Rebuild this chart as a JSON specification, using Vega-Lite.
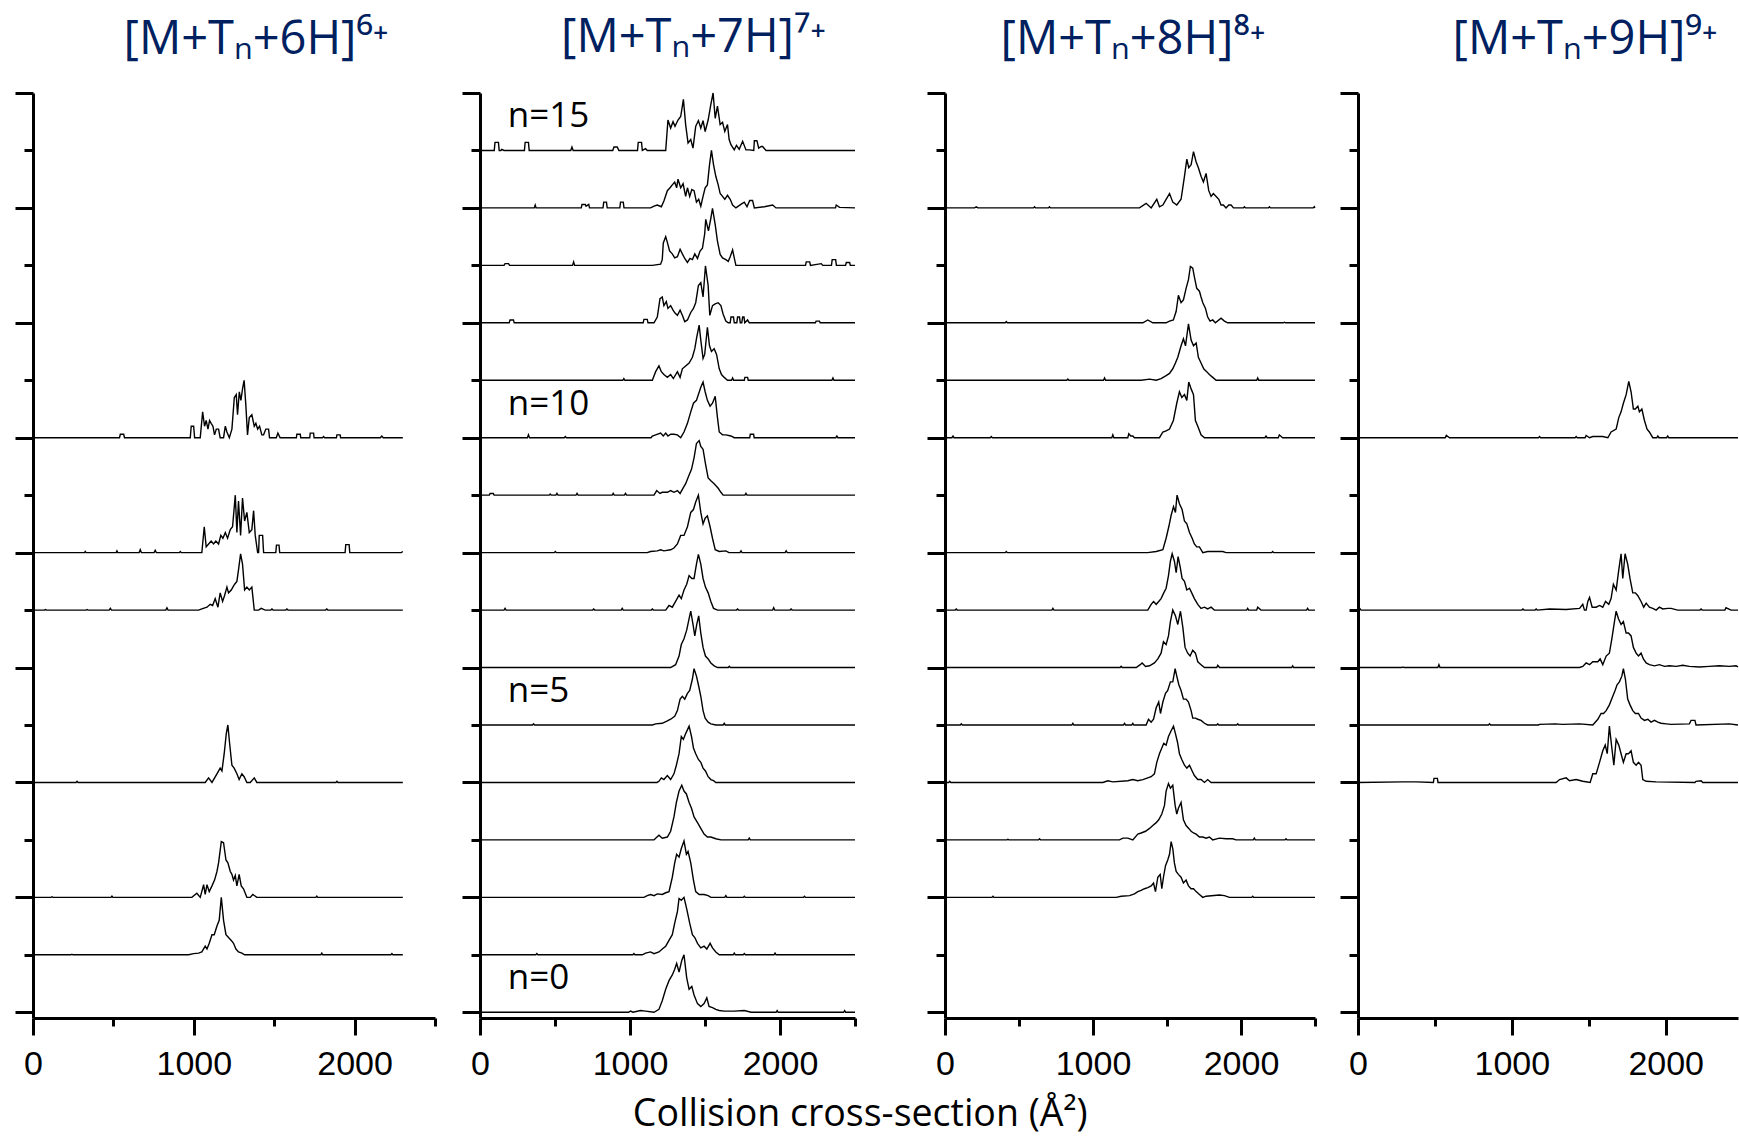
{
"$schema": "https://vega.github.io/schema/vega-lite/v6.json",
"background": "white",
"padding": {"left": 13, "top": 14, "right": 0, "bottom": 0},
"config": {
  "view": {"stroke": null},
  "axis": {"grid": false, "domainColor": "black", "domainWidth": 3, "tickColor": "black", "tickWidth": 3, "labelFont": "Liberation Sans", "labelFontSize": 34, "labelColor": "black", "title": null}
},
"title": {"text": "Collision cross-section (Å²)", "orient": "bottom", "anchor": "middle", "font": "Open Sans", "fontSize": 37.5, "color": "black", "fontWeight": "normal", "offset": 15, "dx": -17},
"datasets": {
"lab": [{"n":15,"t":"n=15"},{"n":10,"t":"n=10"},{"n":5,"t":"n=5"},{"n":0,"t":"n=0"}],
"p1": [
{"n":10,"x":0,"y":10},{"n":10,"x":538,"y":10},{"n":10,"x":543,"y":10.06},{"n":10,"x":564,"y":10.06},{"n":10,"x":569,"y":10},{"n":10,"x":978,"y":10},{"n":10,"x":984,"y":10.2},{"n":10,"x":999,"y":10.2},{"n":10,"x":1005,"y":10},{"n":10,"x":1040,"y":10},{"n":10,"x":1055,"y":10.45},{"n":10,"x":1067,"y":10.2},{"n":10,"x":1077,"y":10.3},{"n":10,"x":1088,"y":10.15},{"n":10,"x":1098,"y":10.3},{"n":10,"x":1108,"y":10.25},{"n":10,"x":1119,"y":10.2},{"n":10,"x":1129,"y":10.05},{"n":10,"x":1140,"y":10.15},{"n":10,"x":1154,"y":10.15},{"n":10,"x":1164,"y":10},{"n":10,"x":1185,"y":10},{"n":10,"x":1196,"y":10.2},{"n":10,"x":1206,"y":10.1},{"n":10,"x":1221,"y":10},{"n":10,"x":1237,"y":10.15},{"n":10,"x":1252,"y":10.7},{"n":10,"x":1264,"y":10.75},{"n":10,"x":1272,"y":10.4},{"n":10,"x":1283,"y":10.8},{"n":10,"x":1293,"y":10.65},{"n":10,"x":1303,"y":10.85},{"n":10,"x":1313,"y":11},{"n":10,"x":1324,"y":10.55},{"n":10,"x":1334,"y":10.05},{"n":10,"x":1345,"y":10.35},{"n":10,"x":1361,"y":10.4},{"n":10,"x":1376,"y":10.2},{"n":10,"x":1386,"y":10.25},{"n":10,"x":1397,"y":10.15},{"n":10,"x":1409,"y":10.2},{"n":10,"x":1423,"y":10.05},{"n":10,"x":1434,"y":10.05},{"n":10,"x":1448,"y":10.15},{"n":10,"x":1465,"y":10.15},{"n":10,"x":1471,"y":10},{"n":10,"x":1513,"y":10},{"n":10,"x":1523,"y":10.08},{"n":10,"x":1537,"y":10},{"n":10,"x":1638,"y":10},{"n":10,"x":1641,"y":10.06},{"n":10,"x":1662,"y":10.06},{"n":10,"x":1665,"y":10},{"n":10,"x":1721,"y":10},{"n":10,"x":1724,"y":10.08},{"n":10,"x":1745,"y":10.08},{"n":10,"x":1748,"y":10},{"n":10,"x":1800,"y":10},{"n":10,"x":1807,"y":10.02},{"n":10,"x":1814,"y":10},{"n":10,"x":1887,"y":10},{"n":10,"x":1890,"y":10.05},{"n":10,"x":1910,"y":10.05},{"n":10,"x":1913,"y":10},{"n":10,"x":2160,"y":10},{"n":10,"x":2169,"y":10.03},{"n":10,"x":2178,"y":10},{"n":10,"x":2300,"y":10},
{"n":8,"x":0,"y":8},{"n":8,"x":320,"y":8},{"n":8,"x":325,"y":8.02},{"n":8,"x":330,"y":8},{"n":8,"x":517,"y":8},{"n":8,"x":522,"y":8.03},{"n":8,"x":527,"y":8},{"n":8,"x":660,"y":8},{"n":8,"x":667,"y":8.05},{"n":8,"x":674,"y":8},{"n":8,"x":753,"y":8},{"n":8,"x":760,"y":8.04},{"n":8,"x":767,"y":8},{"n":8,"x":910,"y":8},{"n":8,"x":916,"y":8.02},{"n":8,"x":922,"y":8},{"n":8,"x":1050,"y":8},{"n":8,"x":1065,"y":8.45},{"n":8,"x":1077,"y":8.1},{"n":8,"x":1092,"y":8.15},{"n":8,"x":1108,"y":8.2},{"n":8,"x":1123,"y":8.15},{"n":8,"x":1137,"y":8.2},{"n":8,"x":1154,"y":8.15},{"n":8,"x":1168,"y":8.3},{"n":8,"x":1181,"y":8.25},{"n":8,"x":1196,"y":8.35},{"n":8,"x":1210,"y":8.25},{"n":8,"x":1227,"y":8.4},{"n":8,"x":1241,"y":8.45},{"n":8,"x":1258,"y":9},{"n":8,"x":1268,"y":8.35},{"n":8,"x":1278,"y":8.9},{"n":8,"x":1291,"y":8.3},{"n":8,"x":1303,"y":8.95},{"n":8,"x":1316,"y":8.55},{"n":8,"x":1330,"y":8.7},{"n":8,"x":1345,"y":8.35},{"n":8,"x":1361,"y":8.4},{"n":8,"x":1372,"y":8.73},{"n":8,"x":1382,"y":8.3},{"n":8,"x":1397,"y":8},{"n":8,"x":1403,"y":8},{"n":8,"x":1407,"y":8.3},{"n":8,"x":1428,"y":8.3},{"n":8,"x":1434,"y":8},{"n":8,"x":1510,"y":8},{"n":8,"x":1514,"y":8.13},{"n":8,"x":1530,"y":8.13},{"n":8,"x":1534,"y":8},{"n":8,"x":1941,"y":8},{"n":8,"x":1945,"y":8.14},{"n":8,"x":1966,"y":8.14},{"n":8,"x":1970,"y":8},{"n":8,"x":2290,"y":8},{"n":8,"x":2300,"y":8.02},
{"n":7,"x":0,"y":7},{"n":7,"x":70,"y":7},{"n":7,"x":77,"y":7.01},{"n":7,"x":84,"y":7},{"n":7,"x":330,"y":7},{"n":7,"x":336,"y":7.01},{"n":7,"x":342,"y":7},{"n":7,"x":474,"y":7},{"n":7,"x":481,"y":7.03},{"n":7,"x":488,"y":7},{"n":7,"x":826,"y":7},{"n":7,"x":833,"y":7.04},{"n":7,"x":840,"y":7},{"n":7,"x":1030,"y":7},{"n":7,"x":1050,"y":7.02},{"n":7,"x":1082,"y":7.05},{"n":7,"x":1102,"y":7.1},{"n":7,"x":1117,"y":7.08},{"n":7,"x":1133,"y":7.2},{"n":7,"x":1150,"y":7.05},{"n":7,"x":1164,"y":7.3},{"n":7,"x":1179,"y":7.15},{"n":7,"x":1191,"y":7.25},{"n":7,"x":1206,"y":7.4},{"n":7,"x":1216,"y":7.3},{"n":7,"x":1233,"y":7.35},{"n":7,"x":1243,"y":7.4},{"n":7,"x":1254,"y":7.45},{"n":7,"x":1268,"y":7.5},{"n":7,"x":1278,"y":7.7},{"n":7,"x":1291,"y":7.98},{"n":7,"x":1303,"y":7.8},{"n":7,"x":1316,"y":7.35},{"n":7,"x":1330,"y":7.4},{"n":7,"x":1345,"y":7.35},{"n":7,"x":1361,"y":7.4},{"n":7,"x":1376,"y":7},{"n":7,"x":1403,"y":7},{"n":7,"x":1419,"y":7.03},{"n":7,"x":1444,"y":7},{"n":7,"x":1479,"y":7},{"n":7,"x":1486,"y":7.02},{"n":7,"x":1493,"y":7},{"n":7,"x":1572,"y":7},{"n":7,"x":1579,"y":7.02},{"n":7,"x":1586,"y":7},{"n":7,"x":1820,"y":7},{"n":7,"x":1827,"y":7.02},{"n":7,"x":1834,"y":7},{"n":7,"x":2300,"y":7},
{"n":4,"x":0,"y":4},{"n":4,"x":268,"y":4},{"n":4,"x":274,"y":4.02},{"n":4,"x":280,"y":4},{"n":4,"x":1071,"y":4},{"n":4,"x":1092,"y":4.08},{"n":4,"x":1113,"y":4},{"n":4,"x":1144,"y":4.15},{"n":4,"x":1164,"y":4.25},{"n":4,"x":1175,"y":4.2},{"n":4,"x":1189,"y":4.5},{"n":4,"x":1202,"y":4.85},{"n":4,"x":1212,"y":5},{"n":4,"x":1222,"y":4.7},{"n":4,"x":1237,"y":4.3},{"n":4,"x":1251,"y":4.25},{"n":4,"x":1268,"y":4.15},{"n":4,"x":1282,"y":4.05},{"n":4,"x":1299,"y":4.15},{"n":4,"x":1313,"y":4.1},{"n":4,"x":1330,"y":4},{"n":4,"x":1351,"y":4},{"n":4,"x":1376,"y":4.08},{"n":4,"x":1392,"y":4},{"n":4,"x":1884,"y":4},{"n":4,"x":1890,"y":4.02},{"n":4,"x":1896,"y":4},{"n":4,"x":2300,"y":4},
{"n":2,"x":0,"y":2},{"n":2,"x":112,"y":2},{"n":2,"x":118,"y":2.01},{"n":2,"x":124,"y":2},{"n":2,"x":485,"y":2},{"n":2,"x":491,"y":2.02},{"n":2,"x":497,"y":2},{"n":2,"x":988,"y":2},{"n":2,"x":1019,"y":2.07},{"n":2,"x":1040,"y":2},{"n":2,"x":1061,"y":2.22},{"n":2,"x":1071,"y":2.05},{"n":2,"x":1082,"y":2.22},{"n":2,"x":1096,"y":2.1},{"n":2,"x":1113,"y":2.2},{"n":2,"x":1129,"y":2.3},{"n":2,"x":1144,"y":2.45},{"n":2,"x":1154,"y":2.6},{"n":2,"x":1171,"y":2.97},{"n":2,"x":1185,"y":2.95},{"n":2,"x":1200,"y":2.65},{"n":2,"x":1212,"y":2.6},{"n":2,"x":1227,"y":2.45},{"n":2,"x":1237,"y":2.4},{"n":2,"x":1247,"y":2.3},{"n":2,"x":1258,"y":2.38},{"n":2,"x":1268,"y":2.2},{"n":2,"x":1282,"y":2.4},{"n":2,"x":1295,"y":2.2},{"n":2,"x":1309,"y":2.15},{"n":2,"x":1330,"y":2},{"n":2,"x":1351,"y":2},{"n":2,"x":1367,"y":2.05},{"n":2,"x":1392,"y":2},{"n":2,"x":1759,"y":2},{"n":2,"x":1765,"y":2.02},{"n":2,"x":1771,"y":2},{"n":2,"x":2300,"y":2},
{"n":1,"x":0,"y":1},{"n":1,"x":236,"y":1},{"n":1,"x":242,"y":1.01},{"n":1,"x":248,"y":1},{"n":1,"x":968,"y":1},{"n":1,"x":999,"y":1.02},{"n":1,"x":1030,"y":1.03},{"n":1,"x":1050,"y":1.05},{"n":1,"x":1071,"y":1.15},{"n":1,"x":1082,"y":1.1},{"n":1,"x":1096,"y":1.2},{"n":1,"x":1113,"y":1.35},{"n":1,"x":1127,"y":1.35},{"n":1,"x":1144,"y":1.5},{"n":1,"x":1158,"y":1.6},{"n":1,"x":1171,"y":2},{"n":1,"x":1185,"y":1.6},{"n":1,"x":1200,"y":1.35},{"n":1,"x":1216,"y":1.3},{"n":1,"x":1233,"y":1.25},{"n":1,"x":1247,"y":1.2},{"n":1,"x":1262,"y":1.1},{"n":1,"x":1278,"y":1.05},{"n":1,"x":1299,"y":1.03},{"n":1,"x":1316,"y":1},{"n":1,"x":1790,"y":1},{"n":1,"x":1796,"y":1.03},{"n":1,"x":1802,"y":1},{"n":1,"x":2226,"y":1},{"n":1,"x":2232,"y":1.02},{"n":1,"x":2238,"y":1},{"n":1,"x":2300,"y":1}
],
"p2": [
{"n":15,"x":0,"y":15},{"n":15,"x":95,"y":15},{"n":15,"x":100,"y":15.14},{"n":15,"x":123,"y":15.14},{"n":15,"x":128,"y":15},{"n":15,"x":140,"y":15},{"n":15,"x":145,"y":15.02},{"n":15,"x":160,"y":15},{"n":15,"x":296,"y":15},{"n":15,"x":301,"y":15.14},{"n":15,"x":323,"y":15.14},{"n":15,"x":328,"y":15},{"n":15,"x":605,"y":15},{"n":15,"x":613,"y":15.06},{"n":15,"x":621,"y":15},{"n":15,"x":885,"y":15},{"n":15,"x":893,"y":15.06},{"n":15,"x":915,"y":15.06},{"n":15,"x":926,"y":15},{"n":15,"x":1050,"y":15},{"n":15,"x":1055,"y":15.14},{"n":15,"x":1077,"y":15.14},{"n":15,"x":1082,"y":15},{"n":15,"x":1104,"y":15.03},{"n":15,"x":1115,"y":15},{"n":15,"x":1238,"y":15},{"n":15,"x":1253,"y":15.53},{"n":15,"x":1271,"y":15.39},{"n":15,"x":1287,"y":15.5},{"n":15,"x":1300,"y":15.42},{"n":15,"x":1320,"y":15.53},{"n":15,"x":1338,"y":15.59},{"n":15,"x":1356,"y":15.89},{"n":15,"x":1371,"y":15.45},{"n":15,"x":1387,"y":15.13},{"n":15,"x":1405,"y":15.19},{"n":15,"x":1420,"y":15.04},{"n":15,"x":1438,"y":15.42},{"n":15,"x":1456,"y":15.52},{"n":15,"x":1472,"y":15.39},{"n":15,"x":1487,"y":15.52},{"n":15,"x":1501,"y":15.33},{"n":15,"x":1521,"y":15.53},{"n":15,"x":1539,"y":15.8},{"n":15,"x":1554,"y":16},{"n":15,"x":1568,"y":15.56},{"n":15,"x":1583,"y":15.77},{"n":15,"x":1601,"y":15.45},{"n":15,"x":1617,"y":15.49},{"n":15,"x":1632,"y":15.33},{"n":15,"x":1650,"y":15.45},{"n":15,"x":1661,"y":15.19},{"n":15,"x":1673,"y":15.1},{"n":15,"x":1695,"y":15.01},{"n":15,"x":1710,"y":15.09},{"n":15,"x":1728,"y":15.02},{"n":15,"x":1751,"y":15.16},{"n":15,"x":1773,"y":15.01},{"n":15,"x":1795,"y":15.01},{"n":15,"x":1825,"y":15},{"n":15,"x":1829,"y":15.17},{"n":15,"x":1846,"y":15.17},{"n":15,"x":1858,"y":15.04},{"n":15,"x":1875,"y":15.07},{"n":15,"x":1884,"y":15.07},{"n":15,"x":1907,"y":15},{"n":15,"x":2500,"y":15},
{"n":14,"x":0,"y":14},{"n":14,"x":362,"y":14},{"n":14,"x":368,"y":14.05},{"n":14,"x":374,"y":14},{"n":14,"x":675,"y":14},{"n":14,"x":680,"y":14.06},{"n":14,"x":702,"y":14.06},{"n":14,"x":707,"y":14.03},{"n":14,"x":725,"y":14.06},{"n":14,"x":730,"y":14},{"n":14,"x":820,"y":14},{"n":14,"x":825,"y":14.1},{"n":14,"x":843,"y":14.1},{"n":14,"x":848,"y":14},{"n":14,"x":932,"y":14},{"n":14,"x":937,"y":14.1},{"n":14,"x":955,"y":14.1},{"n":14,"x":960,"y":14},{"n":14,"x":1137,"y":14},{"n":14,"x":1160,"y":14.03},{"n":14,"x":1182,"y":14.05},{"n":14,"x":1209,"y":14.02},{"n":14,"x":1226,"y":14.12},{"n":14,"x":1249,"y":14.3},{"n":14,"x":1267,"y":14.35},{"n":14,"x":1282,"y":14.4},{"n":14,"x":1298,"y":14.45},{"n":14,"x":1311,"y":14.35},{"n":14,"x":1320,"y":14.5},{"n":14,"x":1338,"y":14.35},{"n":14,"x":1354,"y":14.42},{"n":14,"x":1371,"y":14.2},{"n":14,"x":1383,"y":14.35},{"n":14,"x":1398,"y":14.2},{"n":14,"x":1412,"y":14.32},{"n":14,"x":1427,"y":14.3},{"n":14,"x":1443,"y":14.1},{"n":14,"x":1458,"y":14.15},{"n":14,"x":1472,"y":14.03},{"n":14,"x":1487,"y":14.2},{"n":14,"x":1501,"y":14.35},{"n":14,"x":1516,"y":14.4},{"n":14,"x":1530,"y":14.75},{"n":14,"x":1543,"y":15},{"n":14,"x":1557,"y":14.75},{"n":14,"x":1572,"y":14.55},{"n":14,"x":1588,"y":14.4},{"n":14,"x":1601,"y":14.25},{"n":14,"x":1617,"y":14.2},{"n":14,"x":1632,"y":14.15},{"n":14,"x":1650,"y":14.22},{"n":14,"x":1668,"y":14.15},{"n":14,"x":1684,"y":14.05},{"n":14,"x":1706,"y":14},{"n":14,"x":1744,"y":14.07},{"n":14,"x":1762,"y":14.1},{"n":14,"x":1780,"y":14.02},{"n":14,"x":1798,"y":14.13},{"n":14,"x":1817,"y":14.13},{"n":14,"x":1829,"y":14},{"n":14,"x":1896,"y":14.02},{"n":14,"x":1951,"y":14.05},{"n":14,"x":1973,"y":14},{"n":14,"x":2370,"y":14},{"n":14,"x":2375,"y":14.05},{"n":14,"x":2397,"y":14.01},{"n":14,"x":2500,"y":14},
{"n":13,"x":0,"y":13},{"n":13,"x":160,"y":13},{"n":13,"x":167,"y":13.03},{"n":13,"x":190,"y":13.03},{"n":13,"x":197,"y":13},{"n":13,"x":617,"y":13},{"n":13,"x":624,"y":13.06},{"n":13,"x":631,"y":13},{"n":13,"x":1149,"y":13},{"n":13,"x":1204,"y":13.02},{"n":13,"x":1215,"y":13.1},{"n":13,"x":1222,"y":13.39},{"n":13,"x":1238,"y":13.5},{"n":13,"x":1249,"y":13.4},{"n":13,"x":1264,"y":13.25},{"n":13,"x":1282,"y":13.2},{"n":13,"x":1298,"y":13.13},{"n":13,"x":1316,"y":13.15},{"n":13,"x":1334,"y":13.28},{"n":13,"x":1349,"y":13.2},{"n":13,"x":1365,"y":13.12},{"n":13,"x":1383,"y":13.05},{"n":13,"x":1400,"y":13.12},{"n":13,"x":1416,"y":13.1},{"n":13,"x":1432,"y":13.2},{"n":13,"x":1450,"y":13.12},{"n":13,"x":1467,"y":13.25},{"n":13,"x":1483,"y":13.3},{"n":13,"x":1498,"y":13.55},{"n":13,"x":1505,"y":13.8},{"n":13,"x":1523,"y":13.6},{"n":13,"x":1539,"y":13.82},{"n":13,"x":1550,"y":13.99},{"n":13,"x":1568,"y":13.71},{"n":13,"x":1583,"y":13.42},{"n":13,"x":1601,"y":13.19},{"n":13,"x":1617,"y":13.13},{"n":13,"x":1639,"y":13.1},{"n":13,"x":1655,"y":13.07},{"n":13,"x":1668,"y":13.15},{"n":13,"x":1684,"y":13.27},{"n":13,"x":1695,"y":13.13},{"n":13,"x":1706,"y":13},{"n":13,"x":2170,"y":13},{"n":13,"x":2175,"y":13.06},{"n":13,"x":2198,"y":13.06},{"n":13,"x":2203,"y":13},{"n":13,"x":2275,"y":13.03},{"n":13,"x":2285,"y":13},{"n":13,"x":2343,"y":13},{"n":13,"x":2348,"y":13.1},{"n":13,"x":2371,"y":13.1},{"n":13,"x":2376,"y":13},{"n":13,"x":2437,"y":13},{"n":13,"x":2442,"y":13.05},{"n":13,"x":2464,"y":13.05},{"n":13,"x":2469,"y":13},{"n":13,"x":2500,"y":13},
{"n":12,"x":0,"y":12},{"n":12,"x":195,"y":12},{"n":12,"x":200,"y":12.05},{"n":12,"x":223,"y":12.05},{"n":12,"x":228,"y":12},{"n":12,"x":1088,"y":12},{"n":12,"x":1093,"y":12.06},{"n":12,"x":1115,"y":12.06},{"n":12,"x":1120,"y":12},{"n":12,"x":1160,"y":12},{"n":12,"x":1182,"y":12.1},{"n":12,"x":1200,"y":12.42},{"n":12,"x":1215,"y":12.45},{"n":12,"x":1226,"y":12.3},{"n":12,"x":1242,"y":12.37},{"n":12,"x":1253,"y":12.25},{"n":12,"x":1271,"y":12.3},{"n":12,"x":1287,"y":12.22},{"n":12,"x":1300,"y":12.17},{"n":12,"x":1316,"y":12.13},{"n":12,"x":1334,"y":12.22},{"n":12,"x":1351,"y":12.12},{"n":12,"x":1365,"y":12.02},{"n":12,"x":1383,"y":12.05},{"n":12,"x":1405,"y":12.18},{"n":12,"x":1423,"y":12.25},{"n":12,"x":1438,"y":12.35},{"n":12,"x":1456,"y":12.65},{"n":12,"x":1472,"y":12.7},{"n":12,"x":1487,"y":12.45},{"n":12,"x":1503,"y":12.99},{"n":12,"x":1521,"y":12.65},{"n":12,"x":1532,"y":12.13},{"n":12,"x":1550,"y":12.3},{"n":12,"x":1568,"y":12.33},{"n":12,"x":1588,"y":12.35},{"n":12,"x":1606,"y":12.3},{"n":12,"x":1621,"y":12.15},{"n":12,"x":1639,"y":12.03},{"n":12,"x":1655,"y":12},{"n":12,"x":1668,"y":12},{"n":12,"x":1673,"y":12.1},{"n":12,"x":1690,"y":12.1},{"n":12,"x":1695,"y":12},{"n":12,"x":1712,"y":12},{"n":12,"x":1717,"y":12.1},{"n":12,"x":1730,"y":12.1},{"n":12,"x":1735,"y":12},{"n":12,"x":1745,"y":12},{"n":12,"x":1751,"y":12.1},{"n":12,"x":1760,"y":12.1},{"n":12,"x":1765,"y":12},{"n":12,"x":1784,"y":12.05},{"n":12,"x":1795,"y":12},{"n":12,"x":2236,"y":12},{"n":12,"x":2241,"y":12.03},{"n":12,"x":2263,"y":12.03},{"n":12,"x":2268,"y":12},{"n":12,"x":2500,"y":12},
{"n":11,"x":0,"y":11},{"n":11,"x":952,"y":11},{"n":11,"x":959,"y":11.03},{"n":11,"x":966,"y":11},{"n":11,"x":1149,"y":11},{"n":11,"x":1171,"y":11.15},{"n":11,"x":1193,"y":11.25},{"n":11,"x":1209,"y":11.15},{"n":11,"x":1226,"y":11.1},{"n":11,"x":1249,"y":11.05},{"n":11,"x":1271,"y":11.1},{"n":11,"x":1289,"y":11.03},{"n":11,"x":1316,"y":11.15},{"n":11,"x":1334,"y":11.05},{"n":11,"x":1349,"y":11.2},{"n":11,"x":1371,"y":11.25},{"n":11,"x":1394,"y":11.3},{"n":11,"x":1416,"y":11.4},{"n":11,"x":1432,"y":11.55},{"n":11,"x":1445,"y":11.75},{"n":11,"x":1461,"y":11.96},{"n":11,"x":1472,"y":11.7},{"n":11,"x":1487,"y":11.38},{"n":11,"x":1498,"y":11.45},{"n":11,"x":1516,"y":11.92},{"n":11,"x":1530,"y":11.6},{"n":11,"x":1543,"y":11.5},{"n":11,"x":1561,"y":11.55},{"n":11,"x":1577,"y":11.45},{"n":11,"x":1595,"y":11.2},{"n":11,"x":1610,"y":11.1},{"n":11,"x":1628,"y":11.05},{"n":11,"x":1650,"y":11},{"n":11,"x":1677,"y":11},{"n":11,"x":1684,"y":11.04},{"n":11,"x":1691,"y":11},{"n":11,"x":1762,"y":11},{"n":11,"x":1766,"y":11.05},{"n":11,"x":1784,"y":11.05},{"n":11,"x":1788,"y":11},{"n":11,"x":2346,"y":11},{"n":11,"x":2353,"y":11.04},{"n":11,"x":2360,"y":11},{"n":11,"x":2500,"y":11},
{"n":10,"x":0,"y":10},{"n":10,"x":316,"y":10},{"n":10,"x":323,"y":10.05},{"n":10,"x":330,"y":10},{"n":10,"x":562,"y":10},{"n":10,"x":569,"y":10.02},{"n":10,"x":576,"y":10},{"n":10,"x":1140,"y":10},{"n":10,"x":1149,"y":10.03},{"n":10,"x":1171,"y":10.05},{"n":10,"x":1204,"y":10.08},{"n":10,"x":1222,"y":10.03},{"n":10,"x":1238,"y":10.08},{"n":10,"x":1253,"y":10.03},{"n":10,"x":1271,"y":10.06},{"n":10,"x":1293,"y":10.06},{"n":10,"x":1316,"y":10.05},{"n":10,"x":1338,"y":10},{"n":10,"x":1360,"y":10.1},{"n":10,"x":1383,"y":10.25},{"n":10,"x":1405,"y":10.45},{"n":10,"x":1423,"y":10.6},{"n":10,"x":1443,"y":10.65},{"n":10,"x":1472,"y":10.88},{"n":10,"x":1487,"y":10.97},{"n":10,"x":1501,"y":10.8},{"n":10,"x":1516,"y":10.65},{"n":10,"x":1534,"y":10.55},{"n":10,"x":1550,"y":10.6},{"n":10,"x":1568,"y":10.72},{"n":10,"x":1583,"y":10.35},{"n":10,"x":1595,"y":10.1},{"n":10,"x":1617,"y":10.05},{"n":10,"x":1639,"y":10.05},{"n":10,"x":1673,"y":10.03},{"n":10,"x":1695,"y":10},{"n":10,"x":1798,"y":10},{"n":10,"x":1802,"y":10.06},{"n":10,"x":1824,"y":10.06},{"n":10,"x":1828,"y":10},{"n":10,"x":2372,"y":10},{"n":10,"x":2379,"y":10.03},{"n":10,"x":2386,"y":10},{"n":10,"x":2500,"y":10},
{"n":9,"x":0,"y":9},{"n":9,"x":62,"y":9},{"n":9,"x":67,"y":9.03},{"n":9,"x":89,"y":9.03},{"n":9,"x":94,"y":9},{"n":9,"x":461,"y":9},{"n":9,"x":468,"y":9.02},{"n":9,"x":475,"y":9},{"n":9,"x":506,"y":9},{"n":9,"x":513,"y":9.03},{"n":9,"x":520,"y":9},{"n":9,"x":640,"y":9},{"n":9,"x":647,"y":9.03},{"n":9,"x":654,"y":9},{"n":9,"x":881,"y":9},{"n":9,"x":888,"y":9.03},{"n":9,"x":895,"y":9},{"n":9,"x":963,"y":9},{"n":9,"x":970,"y":9.03},{"n":9,"x":977,"y":9},{"n":9,"x":1160,"y":9},{"n":9,"x":1178,"y":9.08},{"n":9,"x":1200,"y":9.03},{"n":9,"x":1215,"y":9.05},{"n":9,"x":1249,"y":9.05},{"n":9,"x":1271,"y":9.08},{"n":9,"x":1293,"y":9.05},{"n":9,"x":1316,"y":9.08},{"n":9,"x":1334,"y":9.03},{"n":9,"x":1349,"y":9.1},{"n":9,"x":1371,"y":9.2},{"n":9,"x":1394,"y":9.35},{"n":9,"x":1410,"y":9.45},{"n":9,"x":1427,"y":9.65},{"n":9,"x":1443,"y":9.9},{"n":9,"x":1461,"y":9.95},{"n":9,"x":1472,"y":9.85},{"n":9,"x":1487,"y":9.8},{"n":9,"x":1503,"y":9.55},{"n":9,"x":1521,"y":9.3},{"n":9,"x":1539,"y":9.25},{"n":9,"x":1561,"y":9.2},{"n":9,"x":1588,"y":9.12},{"n":9,"x":1606,"y":9.05},{"n":9,"x":1621,"y":9},{"n":9,"x":1766,"y":9},{"n":9,"x":1773,"y":9.03},{"n":9,"x":1780,"y":9},{"n":9,"x":2500,"y":9},
{"n":8,"x":0,"y":8},{"n":8,"x":495,"y":8},{"n":8,"x":502,"y":8.02},{"n":8,"x":509,"y":8},{"n":8,"x":1115,"y":8},{"n":8,"x":1137,"y":8.02},{"n":8,"x":1182,"y":8.03},{"n":8,"x":1204,"y":8.05},{"n":8,"x":1226,"y":8.03},{"n":8,"x":1271,"y":8.05},{"n":8,"x":1293,"y":8.08},{"n":8,"x":1316,"y":8.15},{"n":8,"x":1338,"y":8.3},{"n":8,"x":1360,"y":8.3},{"n":8,"x":1383,"y":8.45},{"n":8,"x":1405,"y":8.7},{"n":8,"x":1423,"y":8.75},{"n":8,"x":1438,"y":8.88},{"n":8,"x":1456,"y":9},{"n":8,"x":1472,"y":8.7},{"n":8,"x":1487,"y":8.5},{"n":8,"x":1501,"y":8.6},{"n":8,"x":1516,"y":8.64},{"n":8,"x":1534,"y":8.45},{"n":8,"x":1550,"y":8.25},{"n":8,"x":1568,"y":8.05},{"n":8,"x":1595,"y":8.02},{"n":8,"x":1639,"y":8.03},{"n":8,"x":1660,"y":8},{"n":8,"x":1733,"y":8},{"n":8,"x":1740,"y":8.03},{"n":8,"x":1747,"y":8},{"n":8,"x":2034,"y":8},{"n":8,"x":2041,"y":8.03},{"n":8,"x":2048,"y":8},{"n":8,"x":2500,"y":8},
{"n":7,"x":0,"y":7},{"n":7,"x":160,"y":7},{"n":7,"x":167,"y":7.03},{"n":7,"x":174,"y":7},{"n":7,"x":751,"y":7},{"n":7,"x":758,"y":7.02},{"n":7,"x":765,"y":7},{"n":7,"x":941,"y":7},{"n":7,"x":948,"y":7.03},{"n":7,"x":955,"y":7},{"n":7,"x":1142,"y":7},{"n":7,"x":1149,"y":7.02},{"n":7,"x":1156,"y":7},{"n":7,"x":1238,"y":7},{"n":7,"x":1260,"y":7.08},{"n":7,"x":1282,"y":7.05},{"n":7,"x":1304,"y":7.15},{"n":7,"x":1327,"y":7.26},{"n":7,"x":1342,"y":7.2},{"n":7,"x":1360,"y":7.35},{"n":7,"x":1378,"y":7.45},{"n":7,"x":1394,"y":7.6},{"n":7,"x":1412,"y":7.55},{"n":7,"x":1427,"y":7.55},{"n":7,"x":1443,"y":7.8},{"n":7,"x":1456,"y":7.97},{"n":7,"x":1472,"y":7.8},{"n":7,"x":1487,"y":7.55},{"n":7,"x":1503,"y":7.4},{"n":7,"x":1521,"y":7.3},{"n":7,"x":1539,"y":7.15},{"n":7,"x":1557,"y":7.03},{"n":7,"x":1584,"y":7},{"n":7,"x":1710,"y":7},{"n":7,"x":1717,"y":7.02},{"n":7,"x":1724,"y":7},{"n":7,"x":1951,"y":7},{"n":7,"x":1958,"y":7.04},{"n":7,"x":1965,"y":7},{"n":7,"x":2067,"y":7},{"n":7,"x":2074,"y":7.02},{"n":7,"x":2081,"y":7},{"n":7,"x":2500,"y":7},
{"n":6,"x":0,"y":6},{"n":6,"x":1271,"y":6},{"n":6,"x":1304,"y":6.05},{"n":6,"x":1327,"y":6.2},{"n":6,"x":1342,"y":6.4},{"n":6,"x":1360,"y":6.5},{"n":6,"x":1378,"y":6.65},{"n":6,"x":1394,"y":6.85},{"n":6,"x":1405,"y":6.98},{"n":6,"x":1420,"y":6.75},{"n":6,"x":1432,"y":6.55},{"n":6,"x":1445,"y":6.75},{"n":6,"x":1458,"y":6.9},{"n":6,"x":1472,"y":6.6},{"n":6,"x":1487,"y":6.35},{"n":6,"x":1503,"y":6.2},{"n":6,"x":1521,"y":6.15},{"n":6,"x":1539,"y":6.08},{"n":6,"x":1561,"y":6.03},{"n":6,"x":1584,"y":6},{"n":6,"x":1655,"y":6},{"n":6,"x":1662,"y":6.02},{"n":6,"x":1669,"y":6},{"n":6,"x":2500,"y":6},
{"n":5,"x":0,"y":5},{"n":5,"x":350,"y":5},{"n":5,"x":357,"y":5.02},{"n":5,"x":364,"y":5},{"n":5,"x":1150,"y":5},{"n":5,"x":1171,"y":5.02},{"n":5,"x":1215,"y":5.03},{"n":5,"x":1249,"y":5.07},{"n":5,"x":1271,"y":5.1},{"n":5,"x":1298,"y":5.15},{"n":5,"x":1316,"y":5.25},{"n":5,"x":1334,"y":5.45},{"n":5,"x":1349,"y":5.5},{"n":5,"x":1365,"y":5.45},{"n":5,"x":1383,"y":5.55},{"n":5,"x":1398,"y":5.6},{"n":5,"x":1416,"y":5.8},{"n":5,"x":1427,"y":5.98},{"n":5,"x":1443,"y":5.85},{"n":5,"x":1456,"y":5.7},{"n":5,"x":1472,"y":5.5},{"n":5,"x":1487,"y":5.25},{"n":5,"x":1501,"y":5.12},{"n":5,"x":1521,"y":5.05},{"n":5,"x":1539,"y":5.02},{"n":5,"x":1572,"y":5},{"n":5,"x":1621,"y":5},{"n":5,"x":1628,"y":5.03},{"n":5,"x":1635,"y":5},{"n":5,"x":2500,"y":5},
{"n":4,"x":0,"y":4},{"n":4,"x":1180,"y":4},{"n":4,"x":1193,"y":4.02},{"n":4,"x":1209,"y":4.08},{"n":4,"x":1226,"y":4.05},{"n":4,"x":1249,"y":4.12},{"n":4,"x":1271,"y":4.05},{"n":4,"x":1293,"y":4.15},{"n":4,"x":1309,"y":4.3},{"n":4,"x":1327,"y":4.5},{"n":4,"x":1342,"y":4.8},{"n":4,"x":1356,"y":4.75},{"n":4,"x":1371,"y":4.85},{"n":4,"x":1394,"y":4.98},{"n":4,"x":1410,"y":4.8},{"n":4,"x":1423,"y":4.6},{"n":4,"x":1438,"y":4.5},{"n":4,"x":1456,"y":4.4},{"n":4,"x":1472,"y":4.35},{"n":4,"x":1487,"y":4.25},{"n":4,"x":1503,"y":4.2},{"n":4,"x":1521,"y":4.1},{"n":4,"x":1539,"y":4.05},{"n":4,"x":1557,"y":4.03},{"n":4,"x":1572,"y":4},{"n":4,"x":2500,"y":4},
{"n":3,"x":0,"y":3},{"n":3,"x":1160,"y":3},{"n":3,"x":1171,"y":3.03},{"n":3,"x":1193,"y":3.08},{"n":3,"x":1215,"y":3.03},{"n":3,"x":1249,"y":3.05},{"n":3,"x":1271,"y":3.15},{"n":3,"x":1293,"y":3.4},{"n":3,"x":1309,"y":3.65},{"n":3,"x":1327,"y":3.85},{"n":3,"x":1345,"y":3.95},{"n":3,"x":1360,"y":3.85},{"n":3,"x":1376,"y":3.8},{"n":3,"x":1394,"y":3.65},{"n":3,"x":1410,"y":3.55},{"n":3,"x":1427,"y":3.4},{"n":3,"x":1450,"y":3.3},{"n":3,"x":1472,"y":3.2},{"n":3,"x":1494,"y":3.1},{"n":3,"x":1516,"y":3.05},{"n":3,"x":1539,"y":3.05},{"n":3,"x":1572,"y":3.02},{"n":3,"x":1606,"y":3},{"n":3,"x":1788,"y":3},{"n":3,"x":1795,"y":3.03},{"n":3,"x":1802,"y":3},{"n":3,"x":2500,"y":3},
{"n":2,"x":0,"y":2},{"n":2,"x":1093,"y":2},{"n":2,"x":1115,"y":2.03},{"n":2,"x":1137,"y":2.05},{"n":2,"x":1160,"y":2.03},{"n":2,"x":1182,"y":2.06},{"n":2,"x":1215,"y":2.05},{"n":2,"x":1238,"y":2.08},{"n":2,"x":1260,"y":2.1},{"n":2,"x":1282,"y":2.35},{"n":2,"x":1298,"y":2.6},{"n":2,"x":1311,"y":2.75},{"n":2,"x":1327,"y":2.7},{"n":2,"x":1342,"y":2.85},{"n":2,"x":1360,"y":2.98},{"n":2,"x":1376,"y":2.75},{"n":2,"x":1387,"y":2.8},{"n":2,"x":1405,"y":2.6},{"n":2,"x":1423,"y":2.3},{"n":2,"x":1438,"y":2.1},{"n":2,"x":1461,"y":2.05},{"n":2,"x":1494,"y":2.05},{"n":2,"x":1521,"y":2.03},{"n":2,"x":1539,"y":2},{"n":2,"x":1632,"y":2},{"n":2,"x":1639,"y":2.03},{"n":2,"x":1646,"y":2},{"n":2,"x":1755,"y":2},{"n":2,"x":1762,"y":2.02},{"n":2,"x":1769,"y":2},{"n":2,"x":2156,"y":2},{"n":2,"x":2163,"y":2.02},{"n":2,"x":2170,"y":2},{"n":2,"x":2500,"y":2},
{"n":1,"x":0,"y":1},{"n":1,"x":372,"y":1},{"n":1,"x":379,"y":1.02},{"n":1,"x":386,"y":1},{"n":1,"x":1019,"y":1},{"n":1,"x":1026,"y":1.02},{"n":1,"x":1033,"y":1},{"n":1,"x":1082,"y":1},{"n":1,"x":1104,"y":1.03},{"n":1,"x":1137,"y":1.05},{"n":1,"x":1160,"y":1.02},{"n":1,"x":1193,"y":1.05},{"n":1,"x":1215,"y":1.1},{"n":1,"x":1238,"y":1.15},{"n":1,"x":1260,"y":1.25},{"n":1,"x":1282,"y":1.35},{"n":1,"x":1298,"y":1.55},{"n":1,"x":1316,"y":1.75},{"n":1,"x":1327,"y":1.98},{"n":1,"x":1342,"y":1.95},{"n":1,"x":1360,"y":2},{"n":1,"x":1378,"y":1.8},{"n":1,"x":1398,"y":1.55},{"n":1,"x":1416,"y":1.35},{"n":1,"x":1432,"y":1.3},{"n":1,"x":1450,"y":1.2},{"n":1,"x":1472,"y":1.12},{"n":1,"x":1494,"y":1.15},{"n":1,"x":1512,"y":1.1},{"n":1,"x":1534,"y":1.2},{"n":1,"x":1550,"y":1.12},{"n":1,"x":1572,"y":1.05},{"n":1,"x":1595,"y":1},{"n":1,"x":1688,"y":1},{"n":1,"x":1695,"y":1.03},{"n":1,"x":1702,"y":1},{"n":1,"x":1755,"y":1},{"n":1,"x":1762,"y":1.02},{"n":1,"x":1769,"y":1},{"n":1,"x":1960,"y":1},{"n":1,"x":1967,"y":1.03},{"n":1,"x":1974,"y":1},{"n":1,"x":2500,"y":1},
{"n":0,"x":0,"y":0},{"n":0,"x":990,"y":0},{"n":0,"x":1004,"y":0.02},{"n":0,"x":1020,"y":0},{"n":0,"x":1070,"y":0.03},{"n":0,"x":1104,"y":0.02},{"n":0,"x":1160,"y":0},{"n":0,"x":1193,"y":0.05},{"n":0,"x":1215,"y":0.2},{"n":0,"x":1238,"y":0.4},{"n":0,"x":1260,"y":0.55},{"n":0,"x":1282,"y":0.65},{"n":0,"x":1298,"y":0.75},{"n":0,"x":1311,"y":0.85},{"n":0,"x":1327,"y":0.7},{"n":0,"x":1345,"y":0.9},{"n":0,"x":1360,"y":1},{"n":0,"x":1378,"y":0.6},{"n":0,"x":1394,"y":0.4},{"n":0,"x":1412,"y":0.45},{"n":0,"x":1427,"y":0.3},{"n":0,"x":1450,"y":0.15},{"n":0,"x":1472,"y":0.1},{"n":0,"x":1494,"y":0.15},{"n":0,"x":1512,"y":0.25},{"n":0,"x":1527,"y":0.1},{"n":0,"x":1550,"y":0.08},{"n":0,"x":1572,"y":0.05},{"n":0,"x":1595,"y":0.03},{"n":0,"x":1628,"y":0.02},{"n":0,"x":1695,"y":0.02},{"n":0,"x":1762,"y":0.03},{"n":0,"x":1807,"y":0},{"n":0,"x":1974,"y":0},{"n":0,"x":1981,"y":0.03},{"n":0,"x":1988,"y":0},{"n":0,"x":2424,"y":0},{"n":0,"x":2431,"y":0.03},{"n":0,"x":2438,"y":0},{"n":0,"x":2500,"y":0}
],
"p3": [
{"n":14,"x":0,"y":14},{"n":14,"x":200,"y":14},{"n":14,"x":211,"y":14.02},{"n":14,"x":222,"y":14},{"n":14,"x":598,"y":14},{"n":14,"x":605,"y":14.02},{"n":14,"x":612,"y":14},{"n":14,"x":699,"y":14},{"n":14,"x":706,"y":14.02},{"n":14,"x":713,"y":14},{"n":14,"x":1314,"y":14},{"n":14,"x":1359,"y":14.08},{"n":14,"x":1393,"y":14},{"n":14,"x":1431,"y":14.15},{"n":14,"x":1449,"y":14.02},{"n":14,"x":1472,"y":14.05},{"n":14,"x":1494,"y":14.15},{"n":14,"x":1517,"y":14.25},{"n":14,"x":1539,"y":14.1},{"n":14,"x":1566,"y":14.05},{"n":14,"x":1595,"y":14.15},{"n":14,"x":1618,"y":14.55},{"n":14,"x":1634,"y":14.85},{"n":14,"x":1647,"y":14.7},{"n":14,"x":1663,"y":14.75},{"n":14,"x":1679,"y":14.98},{"n":14,"x":1697,"y":14.8},{"n":14,"x":1712,"y":14.7},{"n":14,"x":1730,"y":14.55},{"n":14,"x":1746,"y":14.45},{"n":14,"x":1764,"y":14.6},{"n":14,"x":1782,"y":14.3},{"n":14,"x":1798,"y":14.2},{"n":14,"x":1813,"y":14.25},{"n":14,"x":1832,"y":14.2},{"n":14,"x":1850,"y":14.15},{"n":14,"x":1865,"y":14.05},{"n":14,"x":1881,"y":14.05},{"n":14,"x":1899,"y":14},{"n":14,"x":1917,"y":14.05},{"n":14,"x":1933,"y":14.05},{"n":14,"x":1949,"y":14},{"n":14,"x":2016,"y":14},{"n":14,"x":2023,"y":14.02},{"n":14,"x":2030,"y":14},{"n":14,"x":2185,"y":14},{"n":14,"x":2192,"y":14.02},{"n":14,"x":2199,"y":14},{"n":14,"x":2488,"y":14},{"n":14,"x":2495,"y":14.02},{"n":14,"x":2500,"y":14},
{"n":12,"x":0,"y":12},{"n":12,"x":407,"y":12},{"n":12,"x":414,"y":12.02},{"n":12,"x":421,"y":12},{"n":12,"x":1337,"y":12},{"n":12,"x":1370,"y":12.05},{"n":12,"x":1404,"y":12},{"n":12,"x":1494,"y":12},{"n":12,"x":1517,"y":12.03},{"n":12,"x":1543,"y":12.05},{"n":12,"x":1562,"y":12.2},{"n":12,"x":1577,"y":12.48},{"n":12,"x":1595,"y":12.35},{"n":12,"x":1611,"y":12.4},{"n":12,"x":1629,"y":12.6},{"n":12,"x":1645,"y":12.75},{"n":12,"x":1658,"y":12.98},{"n":12,"x":1674,"y":12.95},{"n":12,"x":1685,"y":12.8},{"n":12,"x":1701,"y":12.6},{"n":12,"x":1719,"y":12.55},{"n":12,"x":1730,"y":12.45},{"n":12,"x":1742,"y":12.35},{"n":12,"x":1760,"y":12.25},{"n":12,"x":1775,"y":12.1},{"n":12,"x":1791,"y":12.03},{"n":12,"x":1809,"y":12.05},{"n":12,"x":1827,"y":12},{"n":12,"x":1865,"y":12.08},{"n":12,"x":1888,"y":12.03},{"n":12,"x":1910,"y":12},{"n":12,"x":2286,"y":12},{"n":12,"x":2293,"y":12.01},{"n":12,"x":2300,"y":12},{"n":12,"x":2500,"y":12},
{"n":11,"x":0,"y":11},{"n":11,"x":823,"y":11},{"n":11,"x":830,"y":11.02},{"n":11,"x":837,"y":11},{"n":11,"x":1071,"y":11},{"n":11,"x":1078,"y":11.04},{"n":11,"x":1085,"y":11},{"n":11,"x":1325,"y":11},{"n":11,"x":1382,"y":11.02},{"n":11,"x":1427,"y":11},{"n":11,"x":1460,"y":11.03},{"n":11,"x":1494,"y":11.08},{"n":11,"x":1517,"y":11.12},{"n":11,"x":1539,"y":11.2},{"n":11,"x":1557,"y":11.3},{"n":11,"x":1573,"y":11.4},{"n":11,"x":1595,"y":11.6},{"n":11,"x":1611,"y":11.72},{"n":11,"x":1625,"y":11.6},{"n":11,"x":1645,"y":11.98},{"n":11,"x":1663,"y":11.7},{"n":11,"x":1679,"y":11.6},{"n":11,"x":1697,"y":11.65},{"n":11,"x":1712,"y":11.4},{"n":11,"x":1730,"y":11.3},{"n":11,"x":1748,"y":11.2},{"n":11,"x":1768,"y":11.15},{"n":11,"x":1786,"y":11.1},{"n":11,"x":1809,"y":11.05},{"n":11,"x":1832,"y":11},{"n":11,"x":2106,"y":11},{"n":11,"x":2113,"y":11.04},{"n":11,"x":2120,"y":11},{"n":11,"x":2500,"y":11},
{"n":10,"x":0,"y":10},{"n":10,"x":47,"y":10},{"n":10,"x":54,"y":10.03},{"n":10,"x":61,"y":10},{"n":10,"x":306,"y":10},{"n":10,"x":313,"y":10.02},{"n":10,"x":320,"y":10},{"n":10,"x":1127,"y":10},{"n":10,"x":1134,"y":10.05},{"n":10,"x":1141,"y":10},{"n":10,"x":1235,"y":10},{"n":10,"x":1242,"y":10.07},{"n":10,"x":1255,"y":10.03},{"n":10,"x":1269,"y":10.03},{"n":10,"x":1280,"y":10},{"n":10,"x":1449,"y":10},{"n":10,"x":1472,"y":10.1},{"n":10,"x":1494,"y":10.12},{"n":10,"x":1517,"y":10.15},{"n":10,"x":1543,"y":10.3},{"n":10,"x":1566,"y":10.6},{"n":10,"x":1584,"y":10.8},{"n":10,"x":1600,"y":10.7},{"n":10,"x":1618,"y":10.75},{"n":10,"x":1634,"y":10.65},{"n":10,"x":1647,"y":10.97},{"n":10,"x":1663,"y":10.85},{"n":10,"x":1679,"y":10.75},{"n":10,"x":1692,"y":10.3},{"n":10,"x":1708,"y":10.2},{"n":10,"x":1730,"y":10.05},{"n":10,"x":1753,"y":10},{"n":10,"x":2162,"y":10},{"n":10,"x":2169,"y":10.03},{"n":10,"x":2176,"y":10},{"n":10,"x":2252,"y":10},{"n":10,"x":2259,"y":10.05},{"n":10,"x":2281,"y":10},{"n":10,"x":2500,"y":10},
{"n":8,"x":0,"y":8},{"n":8,"x":407,"y":8},{"n":8,"x":414,"y":8.02},{"n":8,"x":421,"y":8},{"n":8,"x":1370,"y":8},{"n":8,"x":1427,"y":8.02},{"n":8,"x":1472,"y":8.05},{"n":8,"x":1494,"y":8.25},{"n":8,"x":1512,"y":8.45},{"n":8,"x":1528,"y":8.65},{"n":8,"x":1544,"y":8.8},{"n":8,"x":1557,"y":8.7},{"n":8,"x":1568,"y":9},{"n":8,"x":1584,"y":8.85},{"n":8,"x":1602,"y":8.75},{"n":8,"x":1618,"y":8.55},{"n":8,"x":1634,"y":8.5},{"n":8,"x":1652,"y":8.35},{"n":8,"x":1670,"y":8.25},{"n":8,"x":1685,"y":8.15},{"n":8,"x":1701,"y":8.1},{"n":8,"x":1719,"y":8.1},{"n":8,"x":1742,"y":8},{"n":8,"x":1775,"y":8.02},{"n":8,"x":1820,"y":8.02},{"n":8,"x":1877,"y":8.02},{"n":8,"x":1899,"y":8},{"n":8,"x":2207,"y":8},{"n":8,"x":2214,"y":8.02},{"n":8,"x":2221,"y":8},{"n":8,"x":2500,"y":8},
{"n":7,"x":0,"y":7},{"n":7,"x":69,"y":7},{"n":7,"x":76,"y":7.02},{"n":7,"x":83,"y":7},{"n":7,"x":722,"y":7},{"n":7,"x":729,"y":7.03},{"n":7,"x":736,"y":7},{"n":7,"x":1370,"y":7},{"n":7,"x":1393,"y":7.1},{"n":7,"x":1409,"y":7.15},{"n":7,"x":1427,"y":7.1},{"n":7,"x":1444,"y":7.15},{"n":7,"x":1460,"y":7.2},{"n":7,"x":1478,"y":7.3},{"n":7,"x":1494,"y":7.38},{"n":7,"x":1510,"y":7.6},{"n":7,"x":1523,"y":7.85},{"n":7,"x":1535,"y":7.98},{"n":7,"x":1550,"y":7.85},{"n":7,"x":1562,"y":7.65},{"n":7,"x":1575,"y":7.93},{"n":7,"x":1589,"y":7.75},{"n":7,"x":1602,"y":7.55},{"n":7,"x":1618,"y":7.5},{"n":7,"x":1634,"y":7.35},{"n":7,"x":1652,"y":7.38},{"n":7,"x":1667,"y":7.3},{"n":7,"x":1685,"y":7.2},{"n":7,"x":1708,"y":7.1},{"n":7,"x":1730,"y":7.03},{"n":7,"x":1753,"y":7.05},{"n":7,"x":1775,"y":7.02},{"n":7,"x":1798,"y":7.05},{"n":7,"x":1820,"y":7},{"n":7,"x":2038,"y":7},{"n":7,"x":2045,"y":7.03},{"n":7,"x":2052,"y":7},{"n":7,"x":2106,"y":7},{"n":7,"x":2113,"y":7.05},{"n":7,"x":2135,"y":7},{"n":7,"x":2443,"y":7},{"n":7,"x":2450,"y":7.03},{"n":7,"x":2457,"y":7},{"n":7,"x":2500,"y":7},
{"n":6,"x":0,"y":6},{"n":6,"x":1183,"y":6},{"n":6,"x":1190,"y":6.02},{"n":6,"x":1197,"y":6},{"n":6,"x":1292,"y":6},{"n":6,"x":1319,"y":6.05},{"n":6,"x":1332,"y":6.08},{"n":6,"x":1355,"y":6.02},{"n":6,"x":1382,"y":6.03},{"n":6,"x":1415,"y":6.08},{"n":6,"x":1438,"y":6.15},{"n":6,"x":1460,"y":6.25},{"n":6,"x":1476,"y":6.45},{"n":6,"x":1494,"y":6.4},{"n":6,"x":1510,"y":6.55},{"n":6,"x":1523,"y":6.8},{"n":6,"x":1539,"y":7},{"n":6,"x":1557,"y":6.9},{"n":6,"x":1573,"y":6.75},{"n":6,"x":1591,"y":6.98},{"n":6,"x":1607,"y":6.7},{"n":6,"x":1622,"y":6.35},{"n":6,"x":1640,"y":6.25},{"n":6,"x":1656,"y":6.2},{"n":6,"x":1674,"y":6.3},{"n":6,"x":1692,"y":6.25},{"n":6,"x":1708,"y":6.1},{"n":6,"x":1730,"y":6.05},{"n":6,"x":1753,"y":6},{"n":6,"x":1836,"y":6},{"n":6,"x":1843,"y":6.04},{"n":6,"x":1855,"y":6},{"n":6,"x":2342,"y":6},{"n":6,"x":2349,"y":6.03},{"n":6,"x":2356,"y":6},{"n":6,"x":2500,"y":6},
{"n":5,"x":0,"y":5},{"n":5,"x":103,"y":5},{"n":5,"x":110,"y":5.02},{"n":5,"x":117,"y":5},{"n":5,"x":857,"y":5},{"n":5,"x":864,"y":5.03},{"n":5,"x":871,"y":5},{"n":5,"x":1206,"y":5},{"n":5,"x":1213,"y":5.03},{"n":5,"x":1220,"y":5},{"n":5,"x":1262,"y":5},{"n":5,"x":1269,"y":5.03},{"n":5,"x":1276,"y":5},{"n":5,"x":1359,"y":5},{"n":5,"x":1375,"y":5.1},{"n":5,"x":1393,"y":5.05},{"n":5,"x":1409,"y":5.1},{"n":5,"x":1427,"y":5.3},{"n":5,"x":1444,"y":5.4},{"n":5,"x":1456,"y":5.2},{"n":5,"x":1472,"y":5.4},{"n":5,"x":1490,"y":5.55},{"n":5,"x":1505,"y":5.6},{"n":5,"x":1523,"y":5.75},{"n":5,"x":1539,"y":5.75},{"n":5,"x":1555,"y":5.98},{"n":5,"x":1566,"y":5.85},{"n":5,"x":1580,"y":5.7},{"n":5,"x":1595,"y":5.6},{"n":5,"x":1611,"y":5.45},{"n":5,"x":1629,"y":5.45},{"n":5,"x":1645,"y":5.4},{"n":5,"x":1663,"y":5.25},{"n":5,"x":1674,"y":5.12},{"n":5,"x":1692,"y":5.12},{"n":5,"x":1708,"y":5.1},{"n":5,"x":1730,"y":5.08},{"n":5,"x":1753,"y":5.03},{"n":5,"x":1775,"y":5},{"n":5,"x":1836,"y":5},{"n":5,"x":1843,"y":5.02},{"n":5,"x":1850,"y":5},{"n":5,"x":1971,"y":5},{"n":5,"x":1978,"y":5.02},{"n":5,"x":1985,"y":5},{"n":5,"x":2500,"y":5},
{"n":4,"x":0,"y":4},{"n":4,"x":25,"y":4},{"n":4,"x":32,"y":4.02},{"n":4,"x":39,"y":4},{"n":4,"x":1067,"y":4},{"n":4,"x":1100,"y":4.03},{"n":4,"x":1134,"y":4.01},{"n":4,"x":1235,"y":4.03},{"n":4,"x":1269,"y":4.05},{"n":4,"x":1303,"y":4.03},{"n":4,"x":1337,"y":4.05},{"n":4,"x":1370,"y":4.08},{"n":4,"x":1393,"y":4.1},{"n":4,"x":1415,"y":4.15},{"n":4,"x":1431,"y":4.35},{"n":4,"x":1449,"y":4.5},{"n":4,"x":1465,"y":4.6},{"n":4,"x":1478,"y":4.68},{"n":4,"x":1494,"y":4.65},{"n":4,"x":1510,"y":4.8},{"n":4,"x":1528,"y":4.9},{"n":4,"x":1544,"y":4.98},{"n":4,"x":1557,"y":4.85},{"n":4,"x":1571,"y":4.7},{"n":4,"x":1584,"y":4.5},{"n":4,"x":1600,"y":4.4},{"n":4,"x":1618,"y":4.3},{"n":4,"x":1634,"y":4.25},{"n":4,"x":1652,"y":4.3},{"n":4,"x":1670,"y":4.2},{"n":4,"x":1685,"y":4.12},{"n":4,"x":1708,"y":4.05},{"n":4,"x":1730,"y":4.05},{"n":4,"x":1753,"y":4},{"n":4,"x":1775,"y":4.05},{"n":4,"x":1798,"y":4},{"n":4,"x":2500,"y":4},
{"n":3,"x":0,"y":3},{"n":3,"x":418,"y":3},{"n":3,"x":425,"y":3.01},{"n":3,"x":432,"y":3},{"n":3,"x":632,"y":3},{"n":3,"x":639,"y":3.02},{"n":3,"x":646,"y":3},{"n":3,"x":1179,"y":3},{"n":3,"x":1202,"y":3.03},{"n":3,"x":1235,"y":3.03},{"n":3,"x":1269,"y":3},{"n":3,"x":1303,"y":3.1},{"n":3,"x":1325,"y":3.12},{"n":3,"x":1355,"y":3.15},{"n":3,"x":1382,"y":3.2},{"n":3,"x":1404,"y":3.25},{"n":3,"x":1427,"y":3.3},{"n":3,"x":1444,"y":3.35},{"n":3,"x":1465,"y":3.45},{"n":3,"x":1483,"y":3.6},{"n":3,"x":1494,"y":3.85},{"n":3,"x":1510,"y":3.98},{"n":3,"x":1523,"y":3.9},{"n":3,"x":1539,"y":3.95},{"n":3,"x":1555,"y":3.6},{"n":3,"x":1566,"y":3.45},{"n":3,"x":1577,"y":3.55},{"n":3,"x":1595,"y":3.65},{"n":3,"x":1611,"y":3.35},{"n":3,"x":1629,"y":3.25},{"n":3,"x":1647,"y":3.2},{"n":3,"x":1663,"y":3.15},{"n":3,"x":1679,"y":3.12},{"n":3,"x":1697,"y":3.1},{"n":3,"x":1719,"y":3.05},{"n":3,"x":1742,"y":3.05},{"n":3,"x":1764,"y":3.03},{"n":3,"x":1786,"y":3.05},{"n":3,"x":1809,"y":3},{"n":3,"x":1854,"y":3.03},{"n":3,"x":1899,"y":3.02},{"n":3,"x":1944,"y":3.02},{"n":3,"x":1966,"y":3},{"n":3,"x":2083,"y":3},{"n":3,"x":2090,"y":3.03},{"n":3,"x":2097,"y":3},{"n":3,"x":2297,"y":3},{"n":3,"x":2304,"y":3.02},{"n":3,"x":2311,"y":3},{"n":3,"x":2500,"y":3},
{"n":2,"x":0,"y":2},{"n":2,"x":317,"y":2},{"n":2,"x":324,"y":2.02},{"n":2,"x":331,"y":2},{"n":2,"x":1157,"y":2},{"n":2,"x":1190,"y":2.02},{"n":2,"x":1247,"y":2.03},{"n":2,"x":1280,"y":2.06},{"n":2,"x":1303,"y":2.1},{"n":2,"x":1325,"y":2.12},{"n":2,"x":1348,"y":2.15},{"n":2,"x":1370,"y":2.17},{"n":2,"x":1393,"y":2.2},{"n":2,"x":1409,"y":2.25},{"n":2,"x":1422,"y":2.1},{"n":2,"x":1438,"y":2.35},{"n":2,"x":1454,"y":2.4},{"n":2,"x":1465,"y":2.15},{"n":2,"x":1476,"y":2.35},{"n":2,"x":1490,"y":2.55},{"n":2,"x":1505,"y":2.65},{"n":2,"x":1517,"y":2.75},{"n":2,"x":1528,"y":2.97},{"n":2,"x":1539,"y":2.85},{"n":2,"x":1550,"y":2.6},{"n":2,"x":1562,"y":2.45},{"n":2,"x":1577,"y":2.4},{"n":2,"x":1595,"y":2.35},{"n":2,"x":1611,"y":2.25},{"n":2,"x":1629,"y":2.3},{"n":2,"x":1645,"y":2.2},{"n":2,"x":1663,"y":2.15},{"n":2,"x":1679,"y":2.15},{"n":2,"x":1697,"y":2.1},{"n":2,"x":1719,"y":2.05},{"n":2,"x":1742,"y":2},{"n":2,"x":1764,"y":2.02},{"n":2,"x":1854,"y":2.04},{"n":2,"x":1888,"y":2.03},{"n":2,"x":1922,"y":2},{"n":2,"x":2072,"y":2},{"n":2,"x":2079,"y":2.02},{"n":2,"x":2086,"y":2},{"n":2,"x":2500,"y":2}
],
"p4": [
{"n":10,"x":0,"y":10},{"n":10,"x":567,"y":10},{"n":10,"x":574,"y":10.04},{"n":10,"x":595,"y":10},{"n":10,"x":1173,"y":10},{"n":10,"x":1180,"y":10.02},{"n":10,"x":1187,"y":10},{"n":10,"x":1411,"y":10},{"n":10,"x":1418,"y":10.02},{"n":10,"x":1425,"y":10},{"n":10,"x":1476,"y":10},{"n":10,"x":1483,"y":10.04},{"n":10,"x":1505,"y":10},{"n":10,"x":1526,"y":10.02},{"n":10,"x":1591,"y":10.02},{"n":10,"x":1624,"y":10},{"n":10,"x":1645,"y":10.1},{"n":10,"x":1678,"y":10.15},{"n":10,"x":1695,"y":10.35},{"n":10,"x":1710,"y":10.45},{"n":10,"x":1725,"y":10.6},{"n":10,"x":1743,"y":10.75},{"n":10,"x":1760,"y":10.98},{"n":10,"x":1775,"y":10.8},{"n":10,"x":1790,"y":10.5},{"n":10,"x":1803,"y":10.5},{"n":10,"x":1819,"y":10.55},{"n":10,"x":1829,"y":10.45},{"n":10,"x":1845,"y":10.5},{"n":10,"x":1862,"y":10.3},{"n":10,"x":1879,"y":10.15},{"n":10,"x":1894,"y":10.1},{"n":10,"x":1916,"y":10},{"n":10,"x":1942,"y":10},{"n":10,"x":1949,"y":10.03},{"n":10,"x":1956,"y":10},{"n":10,"x":2006,"y":10},{"n":10,"x":2013,"y":10.03},{"n":10,"x":2020,"y":10},{"n":10,"x":2470,"y":10},
{"n":7,"x":0,"y":7},{"n":7,"x":11,"y":7.03},{"n":7,"x":20,"y":7},{"n":7,"x":1065,"y":7},{"n":7,"x":1072,"y":7.02},{"n":7,"x":1079,"y":7},{"n":7,"x":1151,"y":7},{"n":7,"x":1158,"y":7.02},{"n":7,"x":1165,"y":7},{"n":7,"x":1245,"y":7.02},{"n":7,"x":1353,"y":7.01},{"n":7,"x":1440,"y":7.03},{"n":7,"x":1461,"y":7.1},{"n":7,"x":1472,"y":7},{"n":7,"x":1483,"y":7},{"n":7,"x":1494,"y":7.15},{"n":7,"x":1505,"y":7.22},{"n":7,"x":1522,"y":7.05},{"n":7,"x":1548,"y":7.05},{"n":7,"x":1570,"y":7.08},{"n":7,"x":1591,"y":7.05},{"n":7,"x":1609,"y":7.15},{"n":7,"x":1630,"y":7.1},{"n":7,"x":1645,"y":7.2},{"n":7,"x":1660,"y":7.45},{"n":7,"x":1678,"y":7.35},{"n":7,"x":1695,"y":7.7},{"n":7,"x":1710,"y":7.98},{"n":7,"x":1721,"y":7.55},{"n":7,"x":1736,"y":7.98},{"n":7,"x":1753,"y":7.8},{"n":7,"x":1768,"y":7.55},{"n":7,"x":1786,"y":7.3},{"n":7,"x":1803,"y":7.3},{"n":7,"x":1819,"y":7.25},{"n":7,"x":1840,"y":7.15},{"n":7,"x":1857,"y":7.05},{"n":7,"x":1873,"y":7.12},{"n":7,"x":1894,"y":7.05},{"n":7,"x":1916,"y":7.03},{"n":7,"x":1938,"y":7},{"n":7,"x":1959,"y":7.05},{"n":7,"x":1981,"y":7.02},{"n":7,"x":2013,"y":7.03},{"n":7,"x":2035,"y":7.03},{"n":7,"x":2078,"y":7},{"n":7,"x":2223,"y":7},{"n":7,"x":2230,"y":7.02},{"n":7,"x":2237,"y":7},{"n":7,"x":2385,"y":7},{"n":7,"x":2392,"y":7.04},{"n":7,"x":2425,"y":7},{"n":7,"x":2470,"y":7},
{"n":6,"x":0,"y":6},{"n":6,"x":285,"y":6},{"n":6,"x":292,"y":6.01},{"n":6,"x":299,"y":6},{"n":6,"x":519,"y":6},{"n":6,"x":526,"y":6.05},{"n":6,"x":533,"y":6},{"n":6,"x":1440,"y":6},{"n":6,"x":1461,"y":6.02},{"n":6,"x":1483,"y":6.08},{"n":6,"x":1505,"y":6.05},{"n":6,"x":1526,"y":6.1},{"n":6,"x":1559,"y":6.1},{"n":6,"x":1574,"y":6.15},{"n":6,"x":1591,"y":6.05},{"n":6,"x":1613,"y":6.2},{"n":6,"x":1634,"y":6.25},{"n":6,"x":1650,"y":6.5},{"n":6,"x":1667,"y":6.8},{"n":6,"x":1678,"y":6.98},{"n":6,"x":1693,"y":6.85},{"n":6,"x":1710,"y":6.75},{"n":6,"x":1725,"y":6.8},{"n":6,"x":1743,"y":6.6},{"n":6,"x":1758,"y":6.6},{"n":6,"x":1775,"y":6.55},{"n":6,"x":1790,"y":6.35},{"n":6,"x":1808,"y":6.25},{"n":6,"x":1823,"y":6.2},{"n":6,"x":1840,"y":6.25},{"n":6,"x":1855,"y":6.15},{"n":6,"x":1873,"y":6.08},{"n":6,"x":1894,"y":6.05},{"n":6,"x":1927,"y":6.03},{"n":6,"x":1959,"y":6.05},{"n":6,"x":1992,"y":6.02},{"n":6,"x":2024,"y":6.03},{"n":6,"x":2068,"y":6.02},{"n":6,"x":2111,"y":6.04},{"n":6,"x":2154,"y":6.02},{"n":6,"x":2219,"y":6.01},{"n":6,"x":2284,"y":6.02},{"n":6,"x":2349,"y":6.03},{"n":6,"x":2414,"y":6.02},{"n":6,"x":2457,"y":6.03},{"n":6,"x":2470,"y":6.01},
{"n":5,"x":0,"y":5},{"n":5,"x":848,"y":5},{"n":5,"x":855,"y":5.02},{"n":5,"x":862,"y":5},{"n":5,"x":1173,"y":5},{"n":5,"x":1180,"y":5.01},{"n":5,"x":1281,"y":5.02},{"n":5,"x":1331,"y":5.01},{"n":5,"x":1440,"y":5.02},{"n":5,"x":1526,"y":5},{"n":5,"x":1559,"y":5.1},{"n":5,"x":1580,"y":5.2},{"n":5,"x":1596,"y":5.2},{"n":5,"x":1613,"y":5.25},{"n":5,"x":1634,"y":5.35},{"n":5,"x":1656,"y":5.5},{"n":5,"x":1671,"y":5.6},{"n":5,"x":1684,"y":5.7},{"n":5,"x":1699,"y":5.75},{"n":5,"x":1715,"y":5.85},{"n":5,"x":1725,"y":5.98},{"n":5,"x":1738,"y":5.8},{"n":5,"x":1753,"y":5.45},{"n":5,"x":1768,"y":5.35},{"n":5,"x":1786,"y":5.25},{"n":5,"x":1803,"y":5.2},{"n":5,"x":1823,"y":5.2},{"n":5,"x":1840,"y":5.12},{"n":5,"x":1862,"y":5.08},{"n":5,"x":1884,"y":5.1},{"n":5,"x":1905,"y":5.05},{"n":5,"x":1927,"y":5.08},{"n":5,"x":1949,"y":5.05},{"n":5,"x":1970,"y":5.03},{"n":5,"x":2003,"y":5.02},{"n":5,"x":2035,"y":5.01},{"n":5,"x":2154,"y":5.02},{"n":5,"x":2165,"y":5.08},{"n":5,"x":2190,"y":5.08},{"n":5,"x":2197,"y":5},{"n":5,"x":2414,"y":5.02},{"n":5,"x":2470,"y":5},
{"n":4,"x":0,"y":4},{"n":4,"x":292,"y":4.01},{"n":4,"x":379,"y":4.01},{"n":4,"x":490,"y":4},{"n":4,"x":494,"y":4.07},{"n":4,"x":516,"y":4.07},{"n":4,"x":520,"y":4},{"n":4,"x":1288,"y":4},{"n":4,"x":1310,"y":4.05},{"n":4,"x":1353,"y":4.08},{"n":4,"x":1375,"y":4.03},{"n":4,"x":1418,"y":4.05},{"n":4,"x":1461,"y":4.02},{"n":4,"x":1509,"y":4},{"n":4,"x":1526,"y":4.15},{"n":4,"x":1548,"y":4.15},{"n":4,"x":1570,"y":4.35},{"n":4,"x":1591,"y":4.55},{"n":4,"x":1607,"y":4.65},{"n":4,"x":1620,"y":4.5},{"n":4,"x":1634,"y":4.98},{"n":4,"x":1650,"y":4.6},{"n":4,"x":1663,"y":4.3},{"n":4,"x":1678,"y":4.75},{"n":4,"x":1695,"y":4.65},{"n":4,"x":1710,"y":4.5},{"n":4,"x":1725,"y":4.35},{"n":4,"x":1743,"y":4.5},{"n":4,"x":1758,"y":4.5},{"n":4,"x":1775,"y":4.55},{"n":4,"x":1790,"y":4.35},{"n":4,"x":1808,"y":4.3},{"n":4,"x":1823,"y":4.35},{"n":4,"x":1840,"y":4.3},{"n":4,"x":1851,"y":4.05},{"n":4,"x":1873,"y":4.02},{"n":4,"x":1938,"y":4.01},{"n":4,"x":2190,"y":4},{"n":4,"x":2197,"y":4.02},{"n":4,"x":2230,"y":4.03},{"n":4,"x":2241,"y":4},{"n":4,"x":2470,"y":4}
]
},
"spacing": 67,
"hconcat": [
 {"spacing": 23, "hconcat": [
  {"width": 402, "height": 925,
   "title": {"text": "[M+Tₙ+6H]⁶⁺", "font": "Open Sans, Noto Sans, DejaVu Sans", "fontSize": 47, "color": "#002060", "fontWeight": "normal", "anchor": "middle", "dx": 22, "offset": 28},
   "data": {"name": "p1"},
   "mark": {"type": "line", "color": "black", "strokeWidth": 1.4},
   "encoding": {
     "x": {"field": "x", "type": "quantitative", "scale": {"domain": [0, 2500], "nice": false, "zero": false},
       "axis": {"values": [0,500,1000,1500,2000,2500], "format": "d", "labelExpr": "datum.value % 1000 === 0 ? datum.label : ''", "tickSize": {"condition": {"test": "datum.value % 1000 === 0", "value": 17}, "value": 8}, "labelPadding": 12, "labelFlush": false, "labelOverlap": false, "title": null}},
     "y": {"field": "y", "type": "quantitative", "scale": {"domain": [-0.1, 16], "nice": false, "zero": false},
       "axis": {"values": [0,1,2,3,4,5,6,7,8,9,10,11,12,13,14,15,16], "labels": false, "tickSize": {"condition": {"test": "datum.value % 2 === 0", "value": 18}, "value": 9}, "title": null}},
     "detail": {"field": "n", "type": "nominal"}
   }},
  {"width": 375, "height": 925,
   "title": {"text": "[M+Tₙ+7H]⁷⁺", "font": "Open Sans, Noto Sans, DejaVu Sans", "fontSize": 47, "color": "#002060", "fontWeight": "normal", "anchor": "middle", "dx": 26, "offset": 28},
   "layer": [
    {"data": {"name": "p2"},
     "mark": {"type": "line", "color": "black", "strokeWidth": 1.4},
     "encoding": {
       "x": {"field": "x", "type": "quantitative", "scale": {"domain": [0, 2500], "nice": false, "zero": false},
         "axis": {"values": [0,500,1000,1500,2000,2500], "format": "d", "labelExpr": "datum.value % 1000 === 0 ? datum.label : ''", "tickSize": {"condition": {"test": "datum.value % 1000 === 0", "value": 17}, "value": 8}, "labelPadding": 12, "labelFlush": false, "labelOverlap": false, "title": null}},
       "y": {"field": "y", "type": "quantitative", "scale": {"domain": [-0.1, 16], "nice": false, "zero": false},
         "axis": {"values": [0,1,2,3,4,5,6,7,8,9,10,11,12,13,14,15,16], "labels": false, "tickSize": {"condition": {"test": "datum.value % 2 === 0", "value": 18}, "value": 9}, "title": null}},
       "detail": {"field": "n", "type": "nominal"}
     }},
    {"data": {"name": "lab"},
     "mark": {"type": "text", "align": "left", "baseline": "alphabetic", "font": "Open Sans", "fontSize": 35, "color": "black", "dy": -23},
     "encoding": {
       "x": {"datum": 185, "type": "quantitative"},
       "y": {"field": "n", "type": "quantitative"},
       "text": {"field": "t"}
     }}
   ]}
 ]},
 {"spacing": 20, "hconcat": [
  {"width": 370, "height": 925,
   "title": {"text": "[M+Tₙ+8H]⁸⁺", "font": "Open Sans, Noto Sans, DejaVu Sans", "fontSize": 47, "color": "#002060", "fontWeight": "normal", "anchor": "middle", "dx": 3, "offset": 28},
   "data": {"name": "p3"},
   "mark": {"type": "line", "color": "black", "strokeWidth": 1.4},
   "encoding": {
     "x": {"field": "x", "type": "quantitative", "scale": {"domain": [0, 2500], "nice": false, "zero": false},
       "axis": {"values": [0,500,1000,1500,2000,2500], "format": "d", "labelExpr": "datum.value % 1000 === 0 ? datum.label : ''", "tickSize": {"condition": {"test": "datum.value % 1000 === 0", "value": 17}, "value": 8}, "labelPadding": 12, "labelFlush": false, "labelOverlap": false, "title": null}},
     "y": {"field": "y", "type": "quantitative", "scale": {"domain": [-0.1, 16], "nice": false, "zero": false},
       "axis": {"values": [0,1,2,3,4,5,6,7,8,9,10,11,12,13,14,15,16], "labels": false, "tickSize": {"condition": {"test": "datum.value % 2 === 0", "value": 18}, "value": 9}, "title": null}},
     "detail": {"field": "n", "type": "nominal"}
   }},
  {"width": 380, "height": 925,
   "title": {"text": "[M+Tₙ+9H]⁹⁺", "font": "Open Sans, Noto Sans, DejaVu Sans", "fontSize": 47, "color": "#002060", "fontWeight": "normal", "anchor": "middle", "dx": 37, "offset": 28},
   "data": {"name": "p4"},
   "mark": {"type": "line", "color": "black", "strokeWidth": 1.4},
   "encoding": {
     "x": {"field": "x", "type": "quantitative", "scale": {"domain": [0, 2470], "nice": false, "zero": false},
       "axis": {"values": [0,500,1000,1500,2000], "format": "d", "labelExpr": "datum.value % 1000 === 0 ? datum.label : ''", "tickSize": {"condition": {"test": "datum.value % 1000 === 0", "value": 17}, "value": 8}, "labelPadding": 12, "labelFlush": false, "labelOverlap": false, "title": null}},
     "y": {"field": "y", "type": "quantitative", "scale": {"domain": [-0.1, 16], "nice": false, "zero": false},
       "axis": {"values": [0,1,2,3,4,5,6,7,8,9,10,11,12,13,14,15,16], "labels": false, "tickSize": {"condition": {"test": "datum.value % 2 === 0", "value": 18}, "value": 9}, "title": null}},
     "detail": {"field": "n", "type": "nominal"}
   }}
 ]}
]
}
